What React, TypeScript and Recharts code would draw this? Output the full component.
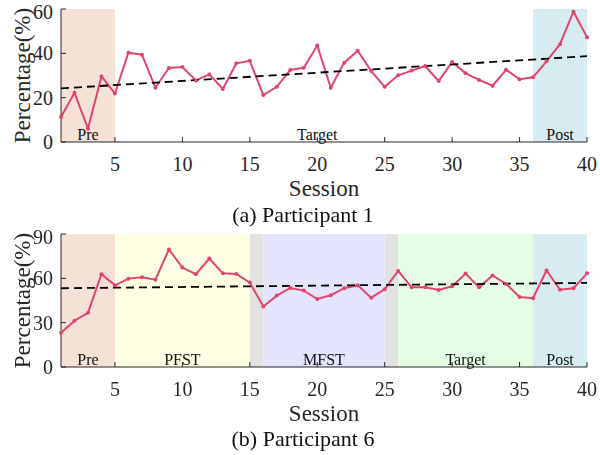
import { LineChart, Line, XAxis, YAxis, ReferenceArea } from "recharts";

const SESSIONS = [
  1, 2, 3, 4, 5, 6, 7, 8, 9, 10, 11, 12, 13, 14, 15, 16, 17, 18, 19, 20,
  21, 22, 23, 24, 25, 26, 27, 28, 29, 30, 31, 32, 33, 34, 35, 36, 37, 38, 39, 40,
];

const P1_VALUES = [
  11.3, 22.2, 6.1, 29.6, 21.9, 40.3, 39.4, 24.5, 33.4, 33.8,
  27.8, 30.5, 23.9, 35.5, 36.6, 21.2, 24.9, 32.5, 33.5, 43.5,
  24.5, 35.8, 41.2, 32.0, 24.9, 30.1, 32.2, 34.3, 27.5, 36.1,
  31.0, 28.0, 25.4, 32.6, 28.3, 29.2, 36.4, 44.1, 58.8, 47.3,
];

const P6_VALUES = [
  23.1, 31.3, 36.7, 62.8, 55.3, 59.8, 60.7, 59.1, 79.5, 67.3,
  62.8, 73.4, 63.4, 63.0, 57.1, 41.0, 48.3, 53.5, 51.7, 46.0,
  48.5, 53.3, 55.3, 46.9, 52.6, 65.0, 53.9, 53.9, 52.1, 54.6,
  63.2, 53.9, 61.9, 56.2, 47.4, 46.5, 65.3, 52.3, 53.3, 63.4,
];

// trend line values at the first and last session
const P1_TREND = [24.2, 38.7];
const P6_TREND = [53.3, 56.9];

const X_TICKS = [5, 10, 15, 20, 25, 30, 35, 40];
const P1_Y_TICKS = [0, 20, 40, 60];
const P6_Y_TICKS = [0, 30, 60, 90];

const P1_PHASES = [
  { name: "Pre", from: 1, to: 5, color: "#f5e1d6" },
  { name: "Target", from: 5, to: 35, color: "transparent" },
  { name: "Post", from: 36, to: 40, color: "#d7ecf0" },
];

const P6_PHASES = [
  { name: "Pre", from: 1, to: 5, color: "#f5e1d6" },
  { name: "PFST", from: 5, to: 15, color: "#ffffe3" },
  { name: "", from: 15, to: 16, color: "#e2e2e2" },
  { name: "MFST", from: 16, to: 25, color: "#e4e4fc" },
  { name: "", from: 25, to: 26, color: "#e2e2e2" },
  { name: "Target", from: 26, to: 36, color: "#e4fde4" },
  { name: "Post", from: 36, to: 40, color: "#d7ecf0" },
];

const LINE_COLOR = "#e0456b";
const AXIS_COLOR = "#262626";
const FONT = "'Liberation Serif', 'Times New Roman', serif";

interface Phase {
  name: string;
  from: number;
  to: number;
  color: string;
}

interface PanelProps {
  values: number[];
  trend: number[];
  yTicks: number[];
  phases: Phase[];
  caption: string;
  top: number;
  captionTop: number;
}

function buildRows(values: number[], trend: number[]) {
  const last = SESSIONS.length - 1;
  return SESSIONS.map((s, i) => ({
    session: s,
    value: values[i],
    trend: i === 0 ? trend[0] : i === last ? trend[1] : null,
  }));
}

function Panel({ values, trend, yTicks, phases, caption, top, captionTop }: PanelProps) {
  const data = buildRows(values, trend);
  const yMax = yTicks[yTicks.length - 1];

  return (
    <div style={{ position: "absolute", left: 0, top, width: 600, height: 230 }}>
      <LineChart
        width={600}
        height={215}
        data={data}
        margin={{ top: 9, right: 13, bottom: 72, left: 60 }}
        style={{ fontFamily: FONT }}
      >
        {phases.map((p, i) => (
          <ReferenceArea
            key={i}
            x1={p.from}
            x2={p.to}
            fill={p.color}
            fillOpacity={1}
            stroke="none"
            ifOverflow="visible"
            label={
              p.name
                ? {
                    value: p.name,
                    position: "insideBottom",
                    offset: 2,
                    fontSize: 16,
                    fill: "#111",
                    fontFamily: FONT,
                  }
                : undefined
            }
          />
        ))}
        <XAxis
          dataKey="session"
          type="number"
          domain={[1, 40]}
          ticks={X_TICKS}
          height={1}
          tickSize={-5}
          tickMargin={20}
          stroke={AXIS_COLOR}
          tick={{ fontSize: 20, fill: AXIS_COLOR, fontFamily: FONT }}
          label={{
            value: "Session",
            position: "bottom",
            offset: 37,
            fontSize: 23,
            fill: AXIS_COLOR,
            fontFamily: FONT,
          }}
        />
        <YAxis
          type="number"
          domain={[0, yMax]}
          ticks={yTicks}
          width={1}
          tickSize={-5}
          tickMargin={13}
          stroke={AXIS_COLOR}
          tick={{ fontSize: 20, fill: AXIS_COLOR, fontFamily: FONT }}
          label={{
            value: "Percentage(%)",
            angle: -90,
            position: "left",
            offset: 38,
            fontSize: 23,
            fill: AXIS_COLOR,
            fontFamily: FONT,
            style: { textAnchor: "middle" },
          }}
        />
        <Line
          dataKey="value"
          type="linear"
          stroke={LINE_COLOR}
          strokeWidth={2}
          dot={{ r: 2, fill: LINE_COLOR, stroke: "none" }}
          activeDot={false}
          isAnimationActive={false}
        />
        <Line
          dataKey="trend"
          type="linear"
          stroke="#000"
          strokeWidth={1.8}
          strokeDasharray="8 5"
          dot={false}
          activeDot={false}
          connectNulls
          isAnimationActive={false}
        />
      </LineChart>
      <div
        style={{
          position: "absolute",
          left: 0,
          width: 606,
          top: captionTop,
          textAlign: "center",
          fontFamily: FONT,
          fontSize: 22,
          lineHeight: "22px",
          color: "#111",
        }}
      >
        {caption}
      </div>
    </div>
  );
}

export default function App() {
  return (
    <div
      style={{
        position: "fixed",
        left: 0,
        top: 0,
        width: 600,
        height: 455,
        background: "#fff",
      }}
    >
      <Panel
        values={P1_VALUES}
        trend={P1_TREND}
        yTicks={P1_Y_TICKS}
        phases={P1_PHASES}
        caption="(a) Participant 1"
        top={0}
        captionTop={204}
      />
      <Panel
        values={P6_VALUES}
        trend={P6_TREND}
        yTicks={P6_Y_TICKS}
        phases={P6_PHASES}
        caption="(b) Participant 6"
        top={225}
        captionTop={203}
      />
    </div>
  );
}
